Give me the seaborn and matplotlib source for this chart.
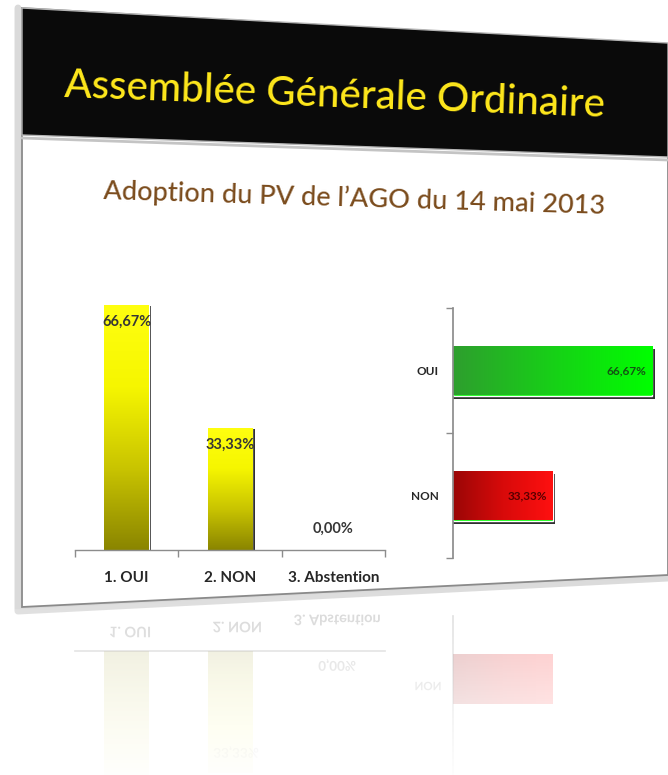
import numpy as np
import matplotlib
matplotlib.use('Agg')
import matplotlib.pyplot as plt
import seaborn as sns
from matplotlib.colors import LinearSegmentedColormap
from matplotlib.patches import Polygon, Rectangle, PathPatch
from matplotlib.textpath import TextPath
from matplotlib.font_manager import FontProperties
from matplotlib.transforms import Affine2D

# ---------------- data ----------------
title = "Assemblée Générale Ordinaire"
subtitle = "Adoption du PV de l’AGO du 14 mai 2013"
col_categories = ["1. OUI", "2. NON", "3. Abstention"]
col_values = [66.67, 33.33, 0.00]
col_labels = ["66,67%", "33,33%", "0,00%"]
bar_categories = ["OUI", "NON"]
bar_values = [66.67, 33.33]
bar_labels = ["66,67%", "33,33%"]

sns.set_theme(style="white")
plt.rcParams['font.family'] = ['Lato', 'DejaVu Sans']

W, H = 668, 775
fig = plt.figure(figsize=(W / 100, H / 100), dpi=100)
fig.patch.set_facecolor('white')


def fbox(left, top, right, bottom):
    return [left / W, 1 - bottom / H, (right - left) / W, (bottom - top) / H]


yellow_cmap = LinearSegmentedColormap.from_list('y', ['#8a8500', '#c9c400', '#f6f600', '#ffff10'])
green_cmap = LinearSegmentedColormap.from_list('g', ['#2e9e2e', '#17d017', '#00ff00'])
red_cmap = LinearSegmentedColormap.from_list('r', ['#9a0606', '#d80a0a', '#ff1010'])


def grad_fill(ax, patch, cmap, horizontal, alpha=1.0):
    x, y = patch.get_x(), patch.get_y()
    w, h = patch.get_width(), patch.get_height()
    if w == 0 or h == 0:
        return
    if horizontal:
        arr = np.linspace(0, 1, 256).reshape(1, -1)
    else:
        arr = np.linspace(0, 1, 256).reshape(-1, 1)
    im = ax.imshow(arr, extent=[x, x + w, y, y + h], origin='lower', cmap=cmap,
                   aspect='auto', zorder=patch.get_zorder() + 0.1, alpha=alpha)
    im.set_clip_path(patch)


# ---------------- slide background ----------------
bg = fig.add_axes([0, 0, 1, 1], zorder=0)
bg.set_xlim(0, W)
bg.set_ylim(H, 0)
bg.axis('off')
bg.plot([18, 18, 668], [8, 611, 578], color='#dadada', lw=5, solid_capstyle='round', zorder=0)
bg.add_patch(Polygon([(22, 8), (668, 45), (668, 575), (22, 607)], closed=True,
                     fc='white', ec='#8a8a8a', lw=1.3, zorder=1))
bg.add_patch(Polygon([(22, 8), (668, 43), (668, 157), (22, 135)], closed=True,
                     fc='#0a0a0a', ec='#b5b5b5', lw=1.0, zorder=2))
bg.plot([22, 668], [138, 160], color='#c4c4c4', lw=2, zorder=2)
bg.text(334, 107, title, ha='center', va='baseline', rotation=-2.1, rotation_mode='anchor',
        fontsize=29, fontweight='medium', color='#FFE81C', zorder=3)
bg.text(354, 206, subtitle, ha='center', va='baseline', rotation=-1.7, rotation_mode='anchor',
        fontsize=19.5, fontweight='medium', color='#7a4b1c', zorder=3)

# ---------------- left column chart ----------------
ax1 = fig.add_axes(fbox(75, 293, 385, 550), zorder=1)
ax1.patch.set_alpha(0)
sns.barplot(x=col_categories, y=col_values, ax=ax1, width=0.43, color='#ffff00', saturation=1)
for p in list(ax1.patches):
    if p.get_height() > 0:
        ax1.add_patch(Rectangle((p.get_x() + 0.025, p.get_y()), p.get_width(), p.get_height() - 0.3,
                                fc='#303030', ec='none', zorder=p.get_zorder() - 0.5))
        grad_fill(ax1, p, yellow_cmap, horizontal=False)
ax1.set_xlim(-0.5, 2.5)
ax1.set_ylim(0, 70)
for s in ['left', 'top', 'right']:
    ax1.spines[s].set_visible(False)
ax1.spines['bottom'].set_color('#8c8c8c')
ax1.spines['bottom'].set_linewidth(1)
ax1.set_yticks([])
ax1.set_xticks([-0.5, 0.5, 1.5, 2.5], minor=True)
ax1.tick_params(axis='x', which='minor', length=5, color='#8c8c8c', direction='out', bottom=True)
ax1.tick_params(axis='x', which='major', length=0, pad=15, labelsize=11, labelcolor='#262626')
for t in ax1.get_xticklabels():
    t.set_fontweight('bold')
ax1.set_xlabel('')
ax1.set_ylabel('')
for i, (v, lab) in enumerate(zip(col_values, col_labels)):
    if v > 0:
        ax1.annotate(lab, xy=(i, v), xytext=(0, -7), textcoords='offset points', ha='center',
                     va='top', fontsize=10.5, fontweight='bold', color='#363636', zorder=5)
    else:
        ax1.annotate(lab, xy=(i, v), xytext=(0, 10), textcoords='offset points', ha='center',
                     va='bottom', fontsize=10.5, fontweight='bold', color='#363636', zorder=5)

# ---------------- right horizontal bar chart ----------------
ax2 = fig.add_axes(fbox(453, 308, 668, 558), zorder=1)
ax2.patch.set_alpha(0)
sns.barplot(x=bar_values, y=bar_categories, orient='h', ax=ax2, width=0.4, color='#00ff00', saturation=1)
hcmaps = [green_cmap, red_cmap]
for p, cm in zip(list(ax2.patches), hcmaps):
    ax2.add_patch(Rectangle((p.get_x(), p.get_y() + 0.025), p.get_width() + 0.8, p.get_height(),
                            fc='#303030', ec='none', zorder=p.get_zorder() - 0.5))
    grad_fill(ax2, p, cm, horizontal=True)
ax2.set_xlim(0, 71.9)
ax2.set_ylim(1.5, -0.5)
for s in ['bottom', 'top', 'right']:
    ax2.spines[s].set_visible(False)
ax2.spines['left'].set_color('#8c8c8c')
ax2.set_xticks([])
ax2.set_yticks([-0.5, 0.5, 1.5], minor=True)
ax2.tick_params(axis='y', which='minor', length=5, color='#8c8c8c', direction='out', left=True)
ax2.tick_params(axis='y', which='major', length=0, pad=10, labelsize=8.5, labelcolor='#262626')
for t in ax2.get_yticklabels():
    t.set_fontweight('bold')
ax2.set_xlabel('')
ax2.set_ylabel('')
for i, (v, lab, c) in enumerate(zip(bar_values, bar_labels, ['#145214', '#5a0000'])):
    ax2.annotate(lab, xy=(v, i), xytext=(-4, 0), textcoords='offset points', ha='right',
                 va='center', fontsize=8.5, fontweight='bold', color=c, zorder=5)

# ---------------- reflection ----------------
RA = 0.18
rx1 = fig.add_axes(fbox(75, 651, 385, 908), zorder=1)
rx1.patch.set_alpha(0)
sns.barplot(x=col_categories, y=col_values, ax=rx1, width=0.43, color='#ffff00', saturation=1, alpha=0)
for p in list(rx1.patches):
    grad_fill(rx1, p, yellow_cmap, horizontal=False, alpha=RA)
rx1.set_xlim(-0.5, 2.5)
rx1.set_ylim(70, 0)
for s in ['left', 'bottom', 'right']:
    rx1.spines[s].set_visible(False)
rx1.spines['top'].set_color('#8c8c8c')
rx1.spines['top'].set_alpha(0.35)
rx1.set_yticks([])
rx1.set_xticks([])
rx1.set_xlabel('')
rx1.set_ylabel('')

rx2 = fig.add_axes(fbox(453, 616, 668, 866), zorder=1)
rx2.patch.set_alpha(0)
sns.barplot(x=bar_values, y=bar_categories, orient='h', ax=rx2, width=0.4, color='#00ff00', saturation=1, alpha=0)
for p, cm in zip(list(rx2.patches), hcmaps):
    grad_fill(rx2, p, cm, horizontal=True, alpha=0.3)
rx2.set_xlim(0, 71.9)
rx2.set_ylim(-0.5, 1.5)
for s in ['bottom', 'top', 'right']:
    rx2.spines[s].set_visible(False)
rx2.spines['left'].set_color('#8c8c8c')
rx2.spines['left'].set_alpha(0.3)
rx2.set_xticks([])
rx2.set_yticks([])
rx2.set_xlabel('')
rx2.set_ylabel('')

ov = fig.add_axes([0, 0, 1, 1], zorder=5)
ov.set_xlim(0, W)
ov.set_ylim(H, 0)
ov.axis('off')
ov.patch.set_alpha(0)


def mirror_text(s, cx, cy, size, alpha):
    tp = TextPath((0, 0), s, size=size, prop=FontProperties(family='Lato', weight='bold'))
    bb = tp.get_extents()
    tr = Affine2D().translate(-(bb.x0 + bb.x1) / 2, -(bb.y0 + bb.y1) / 2).translate(cx, cy)
    ov.add_patch(PathPatch(tr.transform_path(tp), fc='#505050', ec='none', alpha=alpha, zorder=1))


for s, cx, cy in zip(col_categories, [130, 237, 337], [632, 627, 620]):
    mirror_text(s, cx, cy, 14.5, 0.25)
mirror_text(col_labels[2], 337, 665, 13.5, 0.22)
mirror_text(col_labels[1], 236, 752, 13.5, 0.2)
mirror_text(bar_categories[1], 428, 686, 11.5, 0.22)

ramp = np.ones((200, 2, 4))
ramp[..., 3] = np.linspace(0.0, 0.95, 200)[:, None]
im = ov.imshow(ramp, extent=[0, W, 775, 575], origin='upper', aspect='auto', zorder=2)
clip = Polygon([(0, 609), (22, 609), (668, 577), (668, 775), (0, 775)], closed=True,
               transform=ov.transData, fc='none', ec='none')
ov.add_patch(clip)
im.set_clip_path(clip)

fig.savefig('out.png', dpi=100, facecolor='white')
